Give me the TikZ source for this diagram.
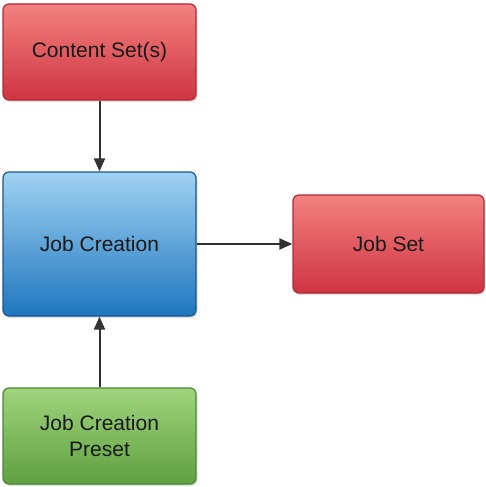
\documentclass[tikz,border=0pt]{standalone}
\usepackage{fontspec}
\setmainfont{Liberation Sans}
\usetikzlibrary{arrows.meta,shadows}
\definecolor{redtop}{RGB}{242,130,128}
\definecolor{redbot}{RGB}{208,52,66}
\definecolor{redline}{RGB}{178,40,55}
\definecolor{bluetop}{RGB}{160,210,242}
\definecolor{bluebot}{RGB}{30,118,190}
\definecolor{blueline}{RGB}{25,85,140}
\definecolor{greentop}{RGB}{160,212,125}
\definecolor{greenbot}{RGB}{95,160,65}
\definecolor{greenline}{RGB}{75,135,50}
\definecolor{arrowcol}{RGB}{50,50,50}
\tikzset{
  x=1pt,y=-1pt,
  boxbase/.style={rounded corners=6pt, line width=1.2pt, inner sep=0pt, align=center,
    font=\fontsize{21}{26}\selectfont, text=black!90,
    drop shadow={shadow xshift=1.5pt, shadow yshift=-2pt, opacity=0.25}},
  redbox/.style={boxbase, draw=redline, top color=redtop, bottom color=redbot},
  bluebox/.style={boxbase, draw=blueline, top color=bluetop, bottom color=bluebot},
  greenbox/.style={boxbase, draw=greenline, top color=greentop, bottom color=greenbot},
  conn/.style={draw=arrowcol, line width=2pt, -{Triangle[length=13pt,width=11pt]}}
}
\begin{document}
\begin{tikzpicture}
\useasboundingbox (0,0) rectangle (485,487);
\node[redbox, minimum width=193pt, minimum height=96pt] (content) at (99.5,52) {Content Set(s)};
\node[bluebox, minimum width=193pt, minimum height=144pt] (jobc) at (99.5,244) {Job Creation};
\node[redbox, minimum width=191pt, minimum height=98pt] (jobset) at (388.5,244) {Job Set};
\node[greenbox, minimum width=193pt, minimum height=96pt] (preset) at (99.5,436) {Job Creation\\Preset};
\draw[conn] (content) -- (jobc);
\draw[conn] (preset) -- (jobc);
\draw[conn] (jobc.east |- jobset.west) -- (jobset);
\end{tikzpicture}
\end{document}
